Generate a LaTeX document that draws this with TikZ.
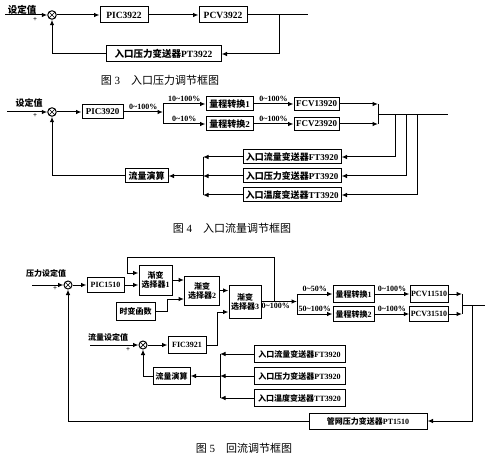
\documentclass[tikz,border=0pt]{standalone}
\usepackage{fontspec}
\setmainfont{Liberation Serif}
\newfontfamily\cjk{Noto Sans CJK SC}
\usetikzlibrary{arrows.meta}
\newcommand{\zh}[1]{{\cjk #1}}
\newcommand{\rng}[2]{#1\textasciitilde#2\%}
\tikzset{
  blk/.style={draw, line width=1pt, inner sep=1pt, align=center},
  txt/.style={inner sep=0pt},
  plus/.style={inner sep=0pt, font=\bfseries\fontsize{7}{7}\selectfont},
  lbl/.style={inner sep=1.5pt, font=\bfseries\fontsize{8}{8}\selectfont},
  capt/.style={inner sep=0pt, font=\fontsize{11}{12}\selectfont},
  sumj/.style={circle, draw, line width=1pt, minimum size=8.5pt, inner sep=0pt,
    path picture={\draw[line width=0.7pt]
      (path picture bounding box.north west) -- (path picture bounding box.south east)
      (path picture bounding box.north east) -- (path picture bounding box.south west);}},
  arr/.style={-{Latex[length=5.5pt,width=4.5pt]}},
  every picture/.style={line cap=butt, line join=miter}
}

\begin{document}
\begin{tikzpicture}[x=1pt, y=-1pt, line width=1pt]
  \useasboundingbox (0,0) rectangle (489,462);

  % Fig. 3: inlet pressure loop
  \begin{scope}[font=\bfseries\fontsize{9.5}{11}\selectfont]
    \node[txt] (setA) at (22,10) {\zh{设定值}};
    \node[plus] (plusA) at (35,20) {+};
    \coordinate (inA) at (5,15);
    \node[sumj] (sA) at (52,15) {};
    \node[blk, minimum width=48pt, minimum height=16pt] (picA) at (124,15) {PIC3922};
    \node[blk, minimum width=48pt, minimum height=16pt] (pcvA) at (223,15) {PCV3922};
    \node[blk, minimum width=115pt, minimum height=16pt] (ptA) at (163.5,54) {\zh{入口压力变送器}PT3922};
    \coordinate (tapA) at (279,15);
    \coordinate (outA) at (308,15);

    \draw[arr] (inA) -- (sA);
    \draw[arr] (sA) -- (picA);
    \draw[arr] (picA) -- (pcvA);
    \draw (pcvA) -- (outA);
    \draw[arr] (tapA) |- (ptA);
    \draw[arr] (ptA) -| (sA);
  \end{scope}
  \node[capt] (capA) at (160,80) {\zh{图} 3\quad\zh{入口压力调节框图}};

  % Fig. 4: inlet flow loop
  \begin{scope}[font=\bfseries\fontsize{9}{10}\selectfont]
    \node[txt] (setB) at (29,103) {\zh{设定值}};
    \node[plus] (plusB) at (35,116) {+};
    \coordinate (inB) at (7,112);
    \node[sumj] (sB) at (52,112) {};
    \node[blk, minimum width=41pt, minimum height=14pt] (picB) at (102.5,112) {PIC3920};
    \coordinate (brB) at (163,112);
    \coordinate (brB1) at (163,104);
    \coordinate (brB2) at (163,124);
    \node[blk, minimum width=47pt, minimum height=14pt] (cnvB1) at (229.5,104) {\zh{量程转换}1};
    \node[blk, minimum width=47pt, minimum height=14pt] (cnvB2) at (229.5,124) {\zh{量程转换}2};
    \node[blk, minimum width=45pt, minimum height=13pt] (fcvB1) at (316.5,104) {FCV13920};
    \node[blk, minimum width=45pt, minimum height=13pt] (fcvB2) at (316.5,124) {FCV23920};
    \coordinate (jB1) at (378,104);
    \coordinate (jB2) at (378,124);
    \coordinate (jB) at (378,115);
    \coordinate (outB) at (448,115);
    \node[blk, minimum width=98pt, minimum height=14pt] (ftB) at (292,157) {\zh{入口流量变送器}FT3920};
    \node[blk, minimum width=98pt, minimum height=14pt] (ptB) at (292,176) {\zh{入口压力变送器}PT3920};
    \node[blk, minimum width=98pt, minimum height=14pt] (ttB) at (292,195) {\zh{入口温度变送器}TT3920};
    \coordinate (tapB1) at (395,115);
    \coordinate (tapB2) at (406,115);
    \coordinate (tapB3) at (417,115);
    \coordinate (colB1) at (203,157);
    \coordinate (colB2) at (203,176);
    \coordinate (colB3) at (203,195);
    \node[blk, minimum width=43pt, minimum height=14pt] (calcB) at (146.5,176) {\zh{流量演算}};

    \draw[arr] (inB) -- (sB);
    \draw[arr] (sB) -- (picB);
    \draw[arr] (picB) -- node[lbl, above] {\rng{0}{100}} (brB);
    \draw (brB1) -- (brB2);
    \draw[arr] (brB1) -- node[lbl, above] {\rng{10}{100}} (cnvB1);
    \draw[arr] (brB2) -- node[lbl, above] {\rng{0}{10}} (cnvB2);
    \draw[arr] (cnvB1) -- node[lbl, above] {\rng{0}{100}} (fcvB1);
    \draw[arr] (cnvB2) -- node[lbl, above] {\rng{0}{100}} (fcvB2);
    \draw[arr] (fcvB1) -- (jB1);
    \draw[arr] (fcvB2) -- (jB2);
    \draw (jB1) -- (jB2);
    \draw (jB) -- (outB);
    \draw[arr] (tapB1) |- (ftB);
    \draw[arr] (tapB2) |- (ptB);
    \draw[arr] (tapB3) |- (ttB);
    \draw[arr] (ftB) -- (colB1);
    \draw[arr] (ptB) -- (colB2);
    \draw[arr] (ttB) -- (colB3);
    \draw (colB1) -- (colB3);
    \draw[arr] (colB2) -- (calcB);
    \draw[arr] (calcB) -| (sB);
  \end{scope}
  \node[capt] (capB) at (232,228) {\zh{图} 4\quad\zh{入口流量调节框图}};

  % Fig. 5: recycle loop
  \begin{scope}[font=\bfseries\fontsize{8}{9}\selectfont]
    \node[txt] (setC) at (46,273) {\zh{压力设定值}};
    \node[plus] (plusC) at (55,289) {+};
    \coordinate (inC) at (32,285);
    \node[sumj, minimum size=8pt] (sC) at (68,285) {};
    \node[blk, minimum width=37pt, minimum height=15pt] (picC) at (105.5,285) {PIC1510};
    \node[blk, minimum width=33pt, minimum height=30pt] (selC1) at (155.5,280) {\zh{渐变}\\\zh{选择器}1};
    \node[blk, minimum width=35pt, minimum height=29pt] (selC2) at (202,290.5) {\zh{渐变}\\\zh{选择器}2};
    \node[blk, minimum width=32pt, minimum height=33pt] (selC3) at (245,301.5) {\zh{渐变}\\\zh{选择器}3};
    \node[blk, minimum width=39pt, minimum height=18pt] (timeC) at (135.5,311) {\zh{时变函数}};
    \node[blk, minimum width=38pt, minimum height=17pt] (ficC) at (187,345) {FIC3921};
    \coordinate (kC) at (167,299);
    \coordinate (mC) at (217,312);
    \coordinate (loopC1) at (274,301.5);
    \coordinate (loopC2) at (127,257);
    \coordinate (fbC) at (127,273);
    \coordinate (brC) at (297,301.5);
    \coordinate (brC1) at (297,294);
    \coordinate (brC2) at (297,314);
    \node[blk, minimum width=41pt, minimum height=17pt] (cnvC1) at (353.5,294) {\zh{量程转换}1};
    \node[blk, minimum width=41pt, minimum height=15pt] (cnvC2) at (353.5,314) {\zh{量程转换}2};
    \node[blk, minimum width=38pt, minimum height=17pt] (pcvC1) at (429,294) {PCV11510};
    \node[blk, minimum width=38pt, minimum height=15pt] (pcvC2) at (429,314) {PCV31510};
    \coordinate (jC1) at (462,294);
    \coordinate (jC2) at (462,314);
    \coordinate (jC) at (462,305);
    \coordinate (outC) at (485,305);
    \coordinate (tapC) at (472,305);
    \node[blk, minimum width=118pt, minimum height=16pt] (pnC) at (368,421) {\zh{管网压力变送器}PT1510};

    \node[txt] (setD) at (108,337) {\zh{流量设定值}};
    \node[plus] (plusD) at (128,350) {+};
    \coordinate (inD) at (90,345);
    \node[sumj, minimum size=8pt] (sD) at (143,345) {};
    \node[blk, minimum width=91pt, minimum height=17pt] (ftC) at (299.5,354) {\zh{入口流量变送器}FT3920};
    \node[blk, minimum width=91pt, minimum height=17pt] (prC) at (299.5,376) {\zh{入口压力变送器}PT3920};
    \node[blk, minimum width=91pt, minimum height=17pt] (ttC) at (299.5,398) {\zh{入口温度变送器}TT3920};
    \coordinate (colC1) at (220,354);
    \coordinate (colC2) at (220,376);
    \coordinate (colC3) at (220,398);
    \node[blk, minimum width=37pt, minimum height=17pt] (calcC) at (171.5,376) {\zh{流量演算}};

    \draw[arr] (inC) -- (sC);
    \draw[arr] (sC) -- (picC);
    \draw[arr] (picC) -- (picC -| selC1.west);
    \draw[arr] (loopC1) |- (loopC2) |- (fbC -| selC1.west);
    \draw[arr] (selC1.east) -- (selC1.east -| selC2.west);
    \draw[arr] (timeC) -| (kC) -- (kC -| selC2.west);
    \draw[arr] (selC2.east) -- (selC2.east -| selC3.west);
    \draw[arr] (ficC) -| (mC) -- (mC -| selC3.west);
    \draw[arr] (selC3) -- node[lbl, below, pos=0.4] {\rng{0}{100}} (brC);
    \draw (brC1) -- (brC2);
    \draw[arr] (brC1) -- node[lbl, above] {\rng{0}{50}} (cnvC1);
    \draw[arr] (brC2) -- node[lbl, above] {\rng{50}{100}} (cnvC2);
    \draw[arr] (cnvC1) -- node[lbl, above] {\rng{0}{100}} (pcvC1);
    \draw[arr] (cnvC2) -- node[lbl, above] {\rng{0}{100}} (pcvC2);
    \draw[arr] (pcvC1) -- (jC1);
    \draw[arr] (pcvC2) -- (jC2);
    \draw (jC1) -- (jC2);
    \draw (jC) -- (outC);
    \draw[arr] (tapC) |- (pnC);
    \draw[arr] (pnC) -| (sC);

    \draw[arr] (inD) -- (sD);
    \draw[arr] (sD) -- (ficC);
    \draw[arr] (ftC) -- (colC1);
    \draw[arr] (prC) -- (colC2);
    \draw[arr] (ttC) -- (colC3);
    \draw (colC1) -- (colC3);
    \draw[arr] (colC2) -- (calcC);
    \draw[arr] (calcC) -| (sD);
  \end{scope}
  \node[capt] (capC) at (244,448) {\zh{图} 5\quad\zh{回流调节框图}};
\end{tikzpicture}
\end{document}
